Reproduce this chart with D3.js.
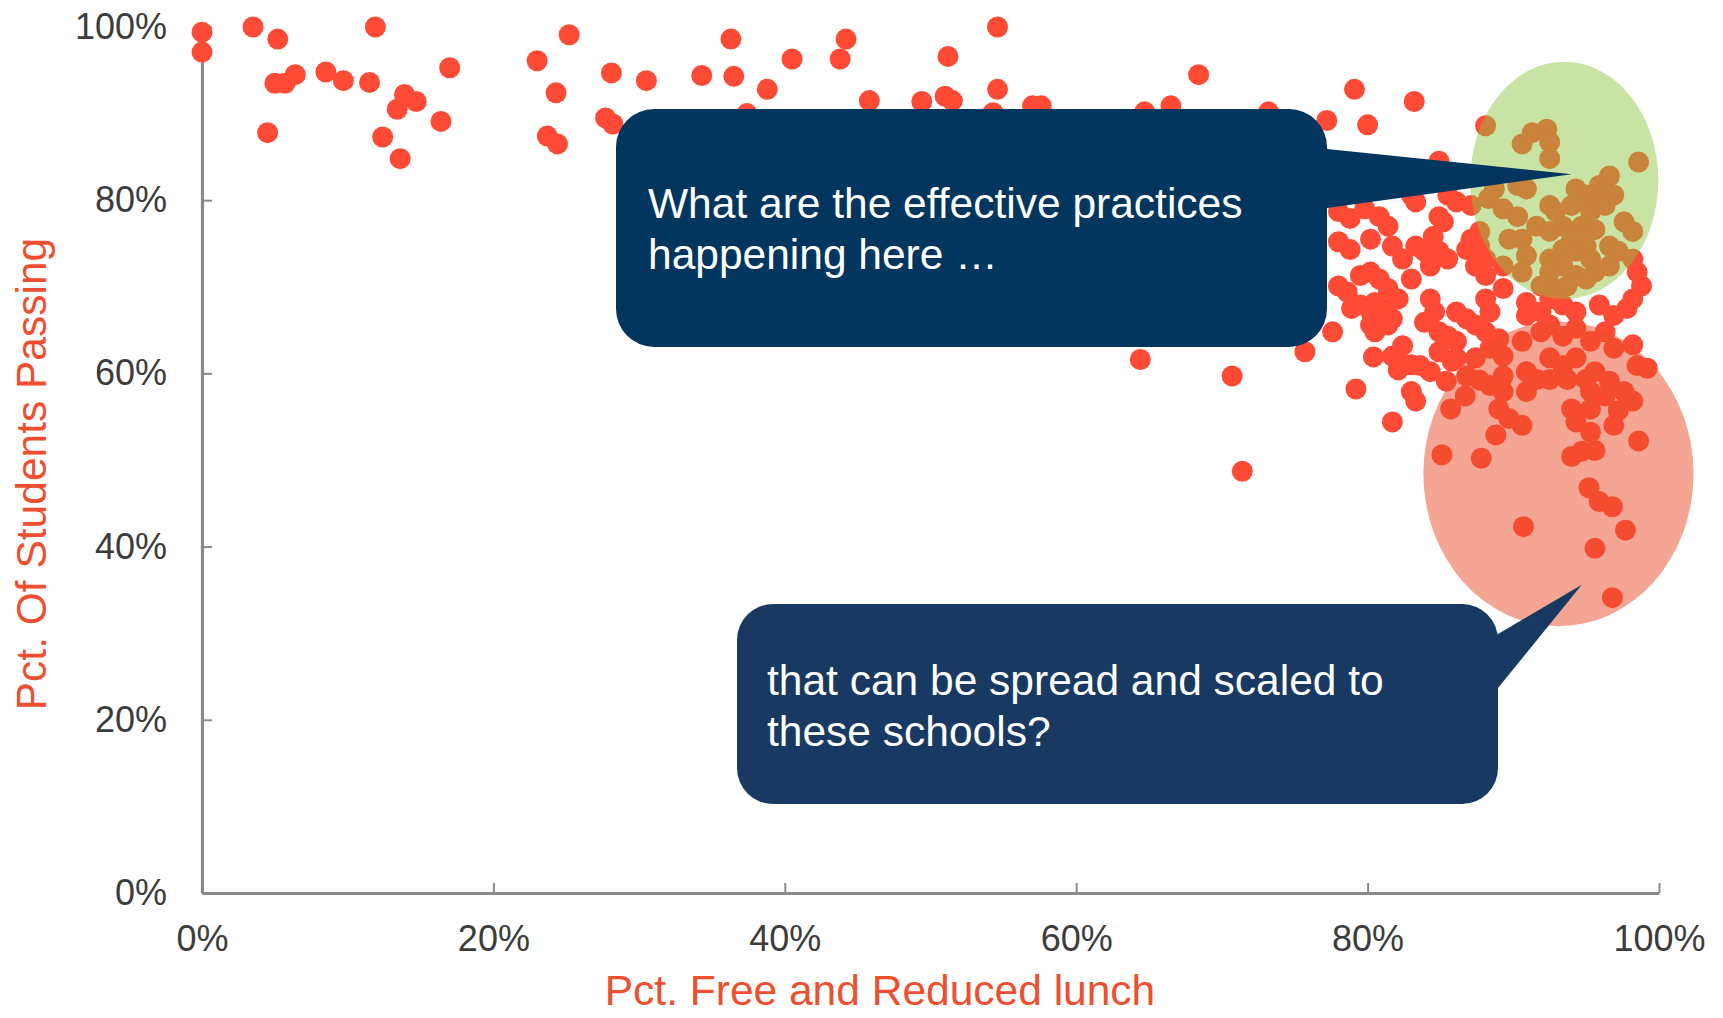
<!DOCTYPE html>
<html>
<head>
<meta charset="utf-8">
<script src="https://cdn.jsdelivr.net/npm/d3@7"></script>
<style>
  body { margin: 0; background: #fff; }
  svg { display: block; font-family: "Liberation Sans", Arial, sans-serif; }
</style>
</head>
<body>
<svg id="graph"></svg>
<script>
// pct. free and reduced lunch (x) and pct. of students passing (y), one entry per school
const lunch = [
  0, 0, 3.5, 5.2, 4.5, 5.0, 5.7, 6.4, 8.5, 9.7, 11.5, 11.9, 12.4, 13.4, 13.9, 14.7, 13.6, 16.4, 17.0,
  23.0, 24.3, 23.7, 24.4, 25.2, 27.7, 28.2, 28.1, 30.5, 34.3, 36.3, 36.5, 37.4, 38.8, 40.5, 43.8, 44.2,
  45.8, 49.4, 51.2, 51.0, 51.5, 54.6, 54.6, 54.3, 57.0, 57.6,
  64.7, 66.5, 68.4, 73.2, 79.1, 83.2, 77.2, 80.0, 84.9,
  88.1, 90.6, 91.3, 92.3, 92.5, 92.5, 98.6, 96.6, 95.9, 88.7, 88.3, 90.3, 90.9, 94.3, 95.0, 95.6, 96.9,
  87.1, 89.3, 90.3, 92.5, 92.9, 94.0, 95.3, 96.3, 91.6, 92.5, 93.4, 94.7, 95.6, 97.6, 98.2, 87.7, 89.7,
  90.6, 94.0, 95.0, 96.6, 97.2, 87.7, 88.1, 90.9, 92.5, 93.4, 94.3, 95.3, 89.3, 90.6, 92.5, 93.4, 94.3,
  95.6, 96.6, 91.9, 92.8, 93.7, 95.0, 98.2, 98.5, 98.8, 98.2, 97.8, 96.9, 95.9, 93.4, 94.3, 92.5, 90.9,
  89.3, 88.1, 87.4, 86.8, 87.1,
  78.0, 78.8, 79.8, 80.8, 81.4, 83.3, 83.0, 84.9, 85.2, 85.5, 86.1, 78.0, 78.8, 80.2, 81.7, 82.4, 83.3,
  83.9, 84.9, 85.5, 78.0, 78.6, 79.5, 80.2, 80.8, 81.4, 82.1, 83.0, 79.5, 80.5, 81.1, 81.7, 81.4, 80.2,
  80.5, 84.3, 84.6, 83.9, 84.9, 86.1, 86.8, 87.4, 88.1, 88.4, 77.6, 75.7, 64.4, 70.7, 71.4, 82.4, 85.5,
  86.1, 83.6, 84.3, 81.7, 82.1, 83.0, 83.3, 79.2, 81.7, 84.9, 86.1, 80.4, 82.1, 83.0, 85.4, 85.8, 85.1,
  85.7, 86.7, 87.8, 87.4, 88.4, 89.3, 86.8, 89.0, 88.1, 90.9, 91.9, 92.5, 93.4, 94.3, 95.3, 96.3, 96.9,
  98.2, 98.5, 99.2, 89.3, 90.9, 92.5, 93.4, 94.3, 91.6, 92.5, 93.7, 95.0, 95.6, 96.6, 88.4, 89.3, 90.9,
  95.3, 96.3, 97.6, 98.2, 89.0, 89.7, 90.6, 94.0, 94.3, 97.2, 96.9, 88.8, 95.3, 95.3, 94.0, 94.7, 95.6,
  95.2, 95.9, 96.8, 95.6, 97.7, 96.8, 90.7, 98.6, 90.6, 91.9, 87.7, 84.3, 78.9, 80.3, 84.5
];
const passing = [
  99.4, 97.1, 100, 98.6, 87.8, 93.5, 93.5, 94.5, 94.8, 93.8, 93.6, 100, 87.3, 90.5, 92.2, 91.4, 84.8, 89.1, 95.3,
  96.1, 92.4, 87.4, 86.5, 99.1, 89.5, 88.8, 94.7, 93.8, 94.4, 98.6, 94.3, 90.0, 92.8, 96.3, 96.3, 98.6,
  91.5, 91.4, 96.6, 92.0, 91.5, 100, 92.8, 90.1, 90.9, 90.9,
  90.2, 90.9, 94.5, 90.2, 92.8, 91.4, 89.2, 88.7, 84.5,
  88.6, 86.5, 87.8, 88.2, 86.7, 84.8, 84.4, 82.8, 81.7, 81.3, 80.2, 81.7, 81.3, 81.3, 80.6, 80.2, 80.6,
  79.4, 79.0, 78.1, 79.4, 78.7, 79.4, 78.7, 79.4, 77.0, 76.4, 77.0, 77.0, 76.6, 77.5, 76.4, 76.4, 75.5,
  75.5, 75.5, 74.7, 74.7, 74.1, 74.7, 73.2, 73.6, 73.2, 74.3, 74.1, 73.2, 72.4, 71.7, 71.7, 72.4, 71.3,
  71.7, 72.4, 70.1, 69.8, 70.1, 70.9, 73.2, 71.7, 70.1, 68.6, 67.5, 66.7, 67.9, 67.9, 67.1, 68.6, 68.2,
  69.8, 71.3, 72.4, 74.3, 75.5,
  78.7, 77.9, 79.0, 78.1, 77.0, 79.8, 80.6, 78.1, 77.5, 80.6, 79.8, 75.2, 74.3, 75.5, 74.7, 73.2, 74.7,
  74.1, 74.1, 73.2, 70.1, 69.4, 71.3, 71.7, 70.9, 69.8, 68.6, 70.9, 67.9, 68.2, 67.5, 66.3, 65.6, 65.6,
  64.8, 68.6, 67.1, 65.9, 64.8, 67.1, 66.3, 65.6, 68.6, 67.1, 64.8, 62.5, 61.6, 59.7, 48.7, 63.2, 64.3,
  63.7, 60.9, 60.2, 62.0, 61.4, 57.9, 56.8, 58.2, 54.4, 62.5, 61.8, 61.9, 60.4, 61.0, 59.1, 61.4, 50.6,
  55.9, 57.4, 50.2, 61.8, 62.9, 62.0, 59.7, 64.0, 64.8, 66.7, 67.1, 65.6, 64.3, 65.2, 63.7, 64.8, 62.9,
  63.3, 60.9, 60.6, 59.7, 60.2, 61.8, 60.9, 61.8, 59.3, 59.3, 59.3, 59.3, 60.2, 59.1, 58.6, 57.9, 57.9,
  57.9, 57.4, 57.9, 56.8, 55.9, 54.8, 54.0, 55.9, 54.4, 55.7, 54.0, 52.9, 55.9, 53.2, 50.4, 51.0, 51.1,
  46.8, 45.2, 44.6, 39.8, 41.9, 34.1, 42.3, 52.2, 63.7, 64.8, 59.2, 72.4, 67.5, 66.7, 75.8
];
const xTicks = [0, 20, 40, 60, 80, 100];
const yTicks = [0, 20, 40, 60, 80, 100];
const xTitle = "Pct. Free and Reduced lunch";
const yTitle = "Pct. Of Students Passing";
const questionLines = ["What are the effective practices", "happening here …"];
const answerLines = ["that can be spread and scaled to", "these schools?"];
// highlighted groups, in axis units: [centre x, centre y, radius x, radius y]
const bestGroup = [93.5, 82.3, 6.45, 13.7];
const worstGroup = [93.1, 48.4, 9.27, 17.6];

const width = 1723;
const height = 1018;
const svg = d3.select("#graph").attr("width", width).attr("height", height);

const x = d3.scaleLinear().domain([0, 100]).range([202, 1659]);
const y = d3.scaleLinear().domain([0, 100]).range([893, 27]);
const pct = (d) => d + "%";

const schools = lunch.map((l, i) => ({ lunch: l, passing: passing[i] }));

// axes
svg.append("g")
  .attr("transform", `translate(0,${y(0)})`)
  .call(d3.axisBottom(x).tickValues(xTicks).tickFormat(pct).tickSizeInner(-10).tickSizeOuter(0).tickPadding(32))
  .call((g) => {
    g.select(".domain").attr("stroke", "#8a8a8a").attr("stroke-width", 3.2);
    g.selectAll(".tick line").attr("stroke", "#8a8a8a").attr("stroke-width", 2);
    g.selectAll("text").attr("font-size", 36).attr("fill", "#3c3c3c")
      .attr("font-family", "'Liberation Sans', Arial, sans-serif");
  });

svg.append("g")
  .attr("transform", `translate(${x(0)},0)`)
  .call(d3.axisLeft(y).tickValues(yTicks).tickFormat(pct).tickSizeInner(-10).tickSizeOuter(0).tickPadding(35))
  .call((g) => {
    g.select(".domain").attr("stroke", "#8a8a8a").attr("stroke-width", 3.2);
    g.selectAll(".tick line").attr("stroke", "#8a8a8a").attr("stroke-width", 2);
    g.selectAll("text").attr("font-size", 36).attr("fill", "#3c3c3c")
      .attr("font-family", "'Liberation Sans', Arial, sans-serif");
  });

// axis titles
svg.append("text")
  .attr("x", 880)
  .attr("y", 1005)
  .attr("text-anchor", "middle")
  .attr("font-size", 42.5)
  .attr("fill", "#ef4f2f")
  .text(xTitle);

svg.append("text")
  .attr("transform", "translate(46,474) rotate(-90)")
  .attr("text-anchor", "middle")
  .attr("font-size", 42.5)
  .attr("fill", "#ef4f2f")
  .text(yTitle);

// points
svg.append("g")
  .selectAll("circle")
  .data(schools)
  .join("circle")
  .attr("cx", (d) => x(d.lunch))
  .attr("cy", (d) => y(d.passing))
  .attr("r", 10.5)
  .attr("fill", "#ff4a36");

// highlight ellipses laid over the points
const ellipse = (grp, fill, op) =>
  svg.append("ellipse")
    .attr("cx", x(grp[0]))
    .attr("cy", y(grp[1]))
    .attr("rx", x(grp[2]) - x(0))
    .attr("ry", y(0) - y(grp[3]))
    .attr("fill", fill)
    .attr("fill-opacity", op);

ellipse(bestGroup, "#8cc440", 0.47);
ellipse(worstGroup, "#eb4b27", 0.5);

// callouts
function callout(box, base, tip, color, lines, tx, ty) {
  const g = svg.append("g");
  g.append("rect")
    .attr("x", box[0]).attr("y", box[1])
    .attr("width", box[2] - box[0]).attr("height", box[3] - box[1])
    .attr("rx", box[4]).attr("fill", color);
  g.append("polygon")
    .attr("points", [base[0], tip, base[1]].map((p) => p.join(",")).join(" "))
    .attr("fill", color);
  g.append("text")
    .attr("font-size", 42.5)
    .attr("fill", "#fff")
    .selectAll("tspan")
    .data(lines)
    .join("tspan")
    .attr("x", tx)
    .attr("y", (d, i) => ty + i * 51)
    .text((d) => d);
}

callout([616, 109, 1327, 347, 38], [[1327, 149], [1327, 208]],
  [x(94.0), y(83.0)], "#02365f", questionLines, 648, 218);
callout([737, 604, 1498, 804, 36], [[1493, 637], [1498, 688]],
  [x(94.7), y(35.6)], "#183962", answerLines, 767, 695);
</script>
</body>
</html>
